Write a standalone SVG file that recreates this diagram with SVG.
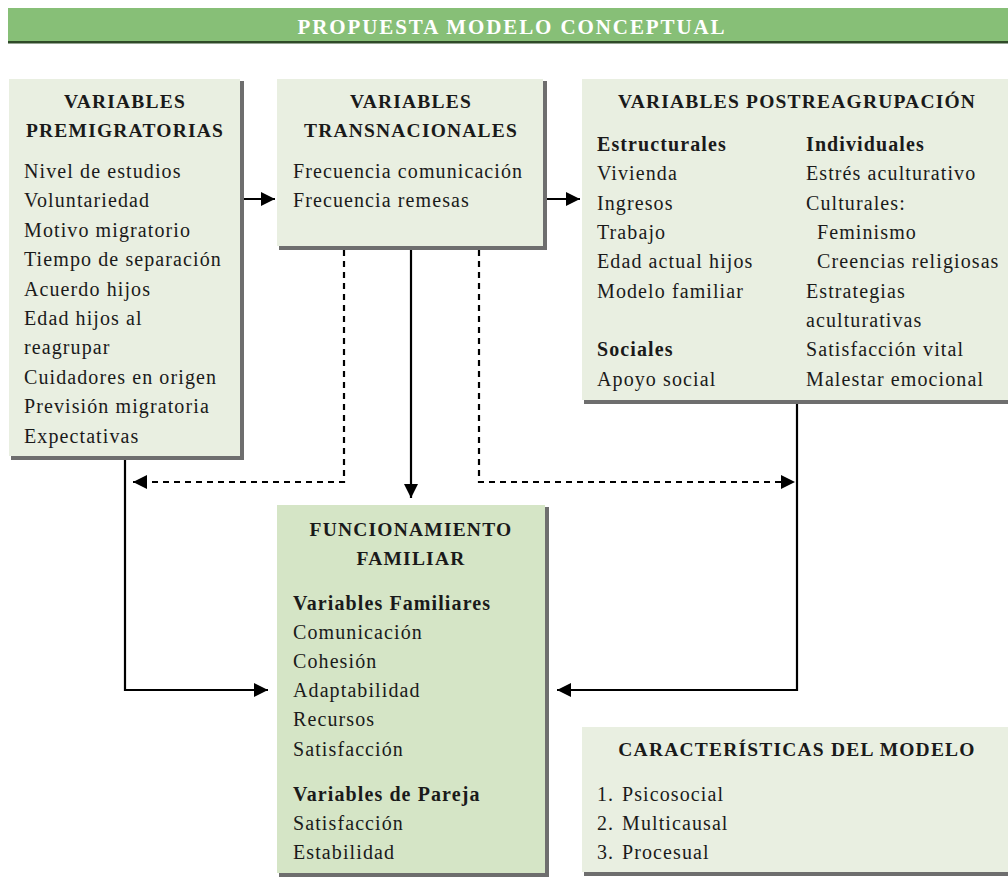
<svg xmlns="http://www.w3.org/2000/svg" width="1008" height="890" viewBox="0 0 1008 890">
<defs>
<style>
text{font-family:"Liberation Serif","DejaVu Serif",serif;font-size:20px;fill:#1a1a1a;letter-spacing:1.1px}
.h{font-weight:bold;text-anchor:middle;font-size:19.5px;letter-spacing:1.2px}
.b{font-weight:bold}
.title{font-weight:bold;fill:#ffffff;text-anchor:middle;font-size:21px;letter-spacing:1.9px}
.box{fill:#e9efe1}
.boxc{fill:#d5e5c6}
.sh{fill:#6e6e6e}
.ln{fill:none;stroke:#000;stroke-width:2.2}
.dl{fill:none;stroke:#000;stroke-width:2.2;stroke-dasharray:6,5}
</style>
<marker id="ah" viewBox="0 0 10 10" refX="10" refY="5" markerWidth="16" markerHeight="14" markerUnits="userSpaceOnUse" orient="auto">
<path d="M0,0 L10,5 L0,10 z" fill="#000"/>
</marker>
</defs>
<g id="header">
<rect x="8" y="41" width="1000" height="2.5" fill="#2f4a28"/>
<rect x="8" y="8" width="1000" height="33" fill="#87bf77"/>
<text class="title" x="512" y="34">PROPUESTA MODELO CONCEPTUAL</text>
</g>
<g id="connectors">
<line class="ln" x1="242" y1="199" x2="275" y2="199" marker-end="url(#ah)"/>
<line class="ln" x1="546" y1="199" x2="580" y2="199" marker-end="url(#ah)"/>
<polyline class="dl" points="344,250 344,482 133,482" marker-end="url(#ah)"/>
<line class="ln" x1="411" y1="250" x2="411" y2="498" marker-end="url(#ah)"/>
<polyline class="dl" points="479,250 479,482 795,482" marker-end="url(#ah)"/>
<polyline class="ln" points="125,458 125,690 268,690" marker-end="url(#ah)"/>
<polyline class="ln" points="797,402 797,690 557,690" marker-end="url(#ah)"/>
</g>
<g id="premigratorias">
<rect class="sh" x="11" y="81" width="233" height="379"/>
<rect class="box" x="9" y="79" width="231" height="377"/>
<text class="h" x="125" y="108">VARIABLES</text>
<text class="h" x="125" y="137">PREMIGRATORIAS</text>
<text x="24" y="178">Nivel de estudios</text>
<text x="24" y="207">Voluntariedad</text>
<text x="24" y="237">Motivo migratorio</text>
<text x="24" y="266">Tiempo de separación</text>
<text x="24" y="296">Acuerdo hijos</text>
<text x="24" y="325">Edad hijos al</text>
<text x="24" y="354">reagrupar</text>
<text x="24" y="384">Cuidadores en origen</text>
<text x="24" y="413">Previsión migratoria</text>
<text x="24" y="443">Expectativas</text>
</g>
<g id="transnacionales">
<rect class="sh" x="279" y="81" width="268" height="169"/>
<rect class="box" x="277" y="79" width="266" height="167"/>
<text class="h" x="411" y="108">VARIABLES</text>
<text class="h" x="411" y="137">TRANSNACIONALES</text>
<text x="293" y="178">Frecuencia comunicación</text>
<text x="293" y="207">Frecuencia remesas</text>
</g>
<g id="postreagrupacion">
<rect class="sh" x="584" y="81" width="426" height="323"/>
<rect class="box" x="582" y="79" width="426" height="321"/>
<text class="h" x="797" y="108">VARIABLES POSTREAGRUPACIÓN</text>
<text class="b" x="597" y="151">Estructurales</text>
<text x="597" y="180">Vivienda</text>
<text x="597" y="210">Ingresos</text>
<text x="597" y="239">Trabajo</text>
<text x="597" y="268">Edad actual hijos</text>
<text x="597" y="298">Modelo familiar</text>
<text class="b" x="597" y="356">Sociales</text>
<text x="597" y="386">Apoyo social</text>
<text class="b" x="806" y="151">Individuales</text>
<text x="806" y="180">Estrés aculturativo</text>
<text x="806" y="210">Culturales:</text>
<text x="817" y="239">Feminismo</text>
<text x="817" y="268">Creencias religiosas</text>
<text x="806" y="298">Estrategias</text>
<text x="806" y="327">aculturativas</text>
<text x="806" y="356">Satisfacción vital</text>
<text x="806" y="386">Malestar emocional</text>
</g>
<g id="funcionamiento">
<rect class="sh" x="279" y="507" width="270" height="370"/>
<rect class="boxc" x="277" y="505" width="268" height="368"/>
<text class="h" x="411" y="536">FUNCIONAMIENTO</text>
<text class="h" x="411" y="565">FAMILIAR</text>
<text class="b" x="293" y="610">Variables Familiares</text>
<text x="293" y="639">Comunicación</text>
<text x="293" y="668">Cohesión</text>
<text x="293" y="697">Adaptabilidad</text>
<text x="293" y="726">Recursos</text>
<text x="293" y="756">Satisfacción</text>
<text class="b" x="293" y="801">Variables de Pareja</text>
<text x="293" y="830">Satisfacción</text>
<text x="293" y="859">Estabilidad</text>
</g>
<g id="caracteristicas">
<rect class="sh" x="584" y="729" width="426" height="147"/>
<rect class="box" x="582" y="727" width="426" height="145"/>
<text class="h" x="797" y="756">CARACTERÍSTICAS DEL MODELO</text>
<text x="597" y="801">1.<tspan x="622">Psicosocial</tspan></text>
<text x="597" y="830">2.<tspan x="622">Multicausal</tspan></text>
<text x="597" y="859">3.<tspan x="622">Procesual</tspan></text>
</g>
</svg>
